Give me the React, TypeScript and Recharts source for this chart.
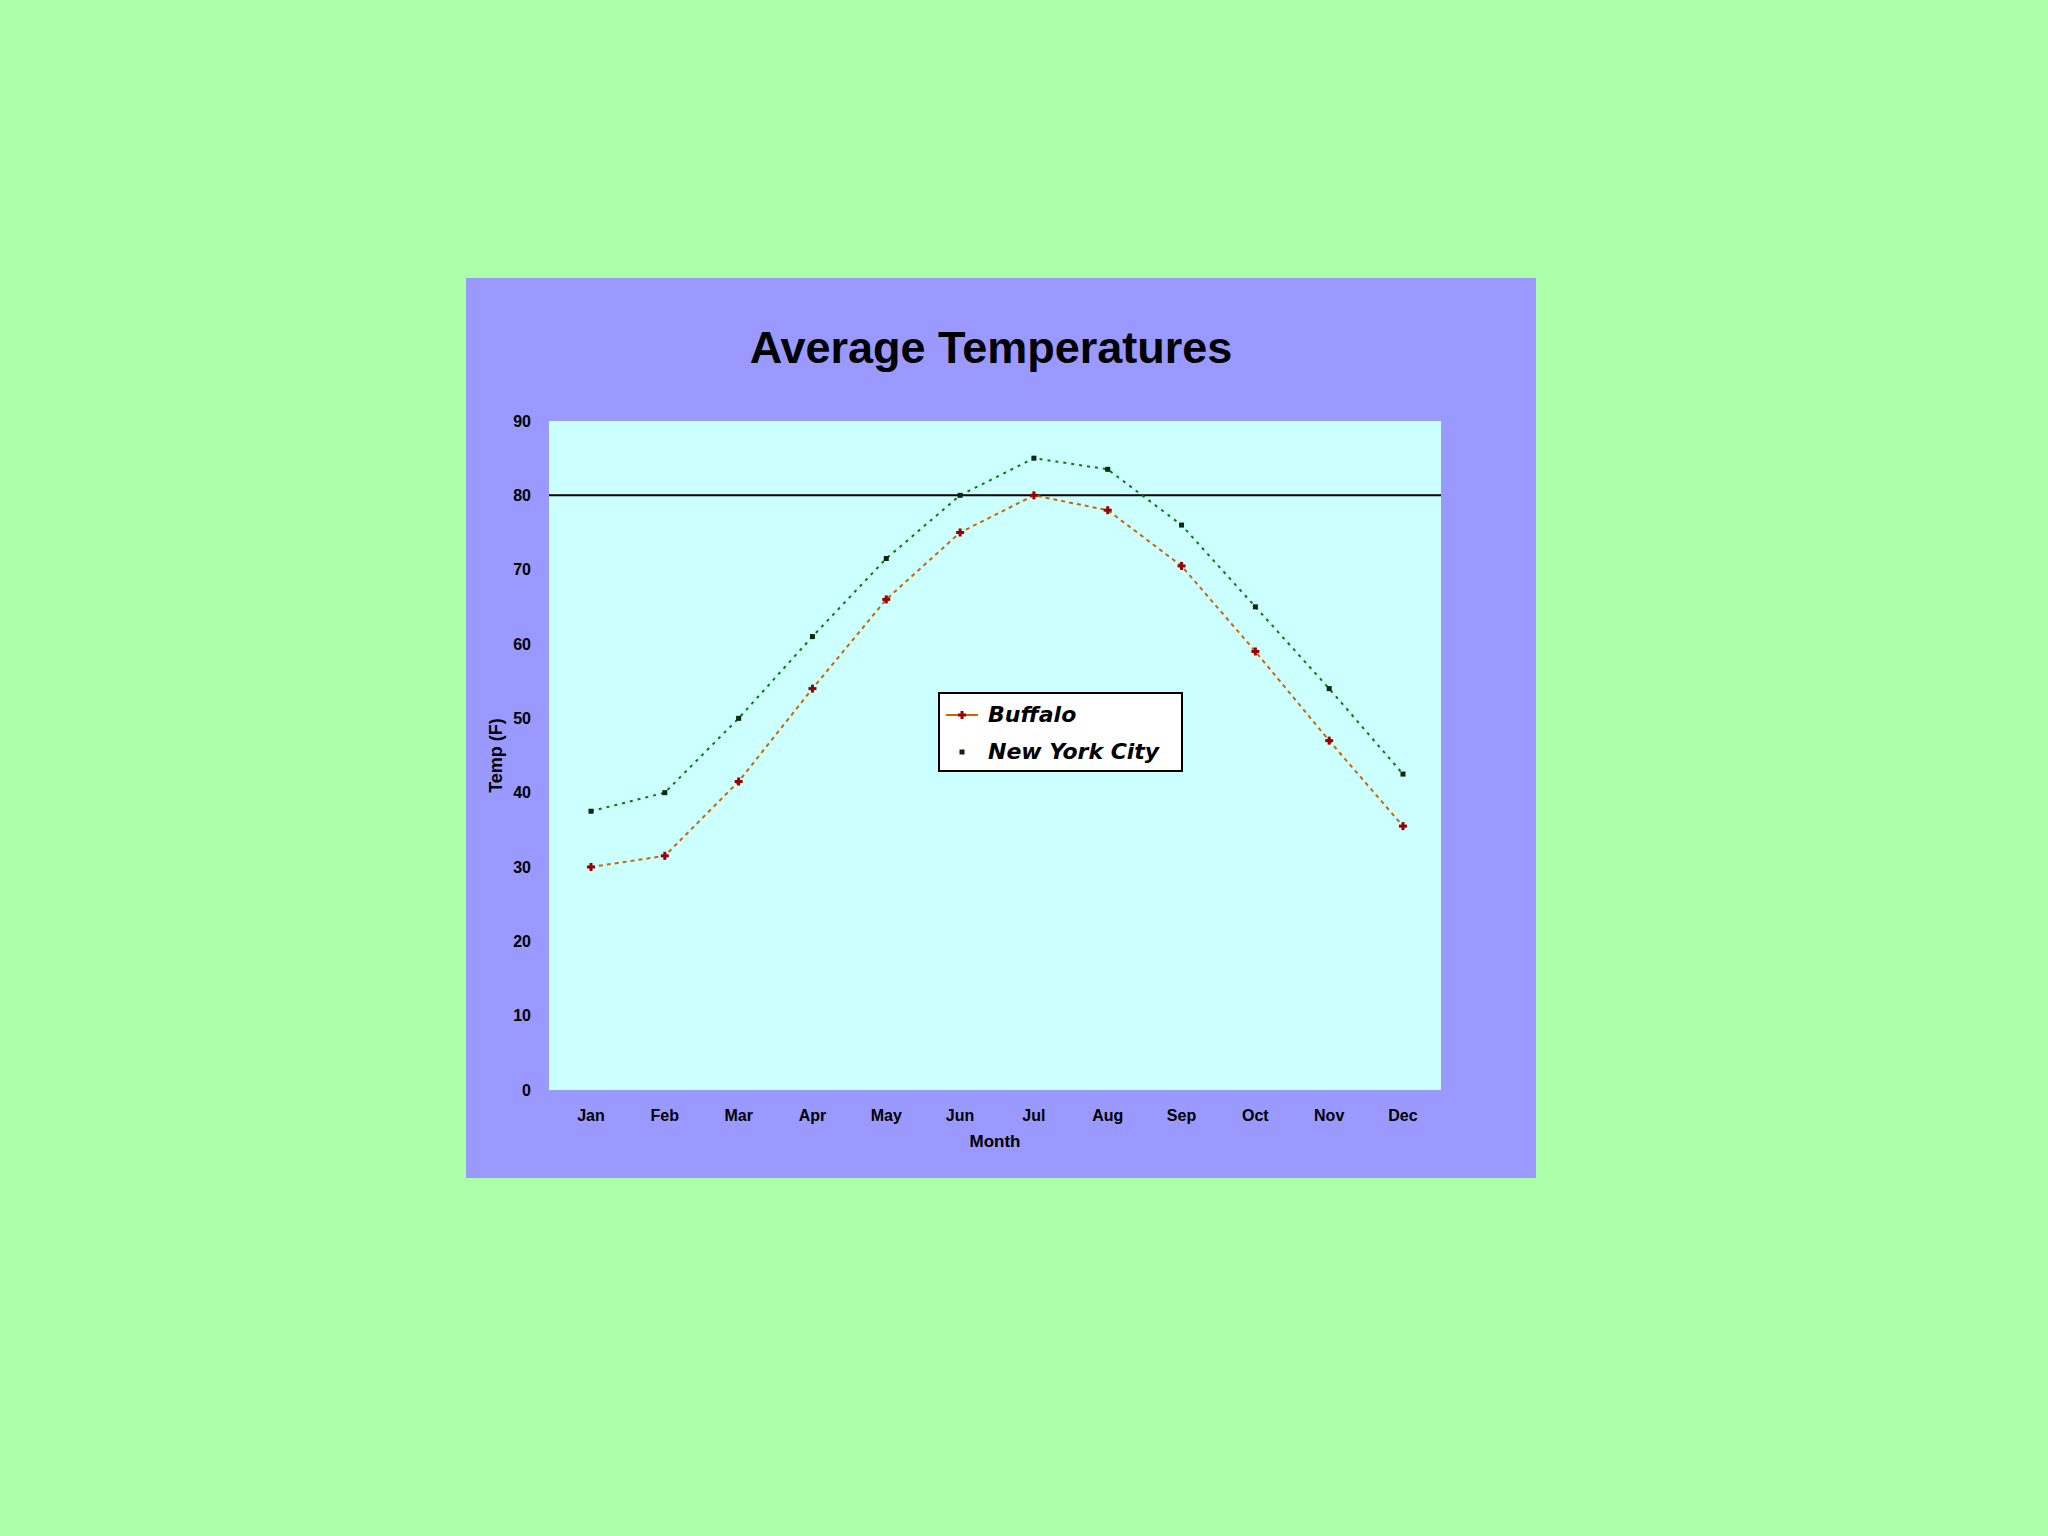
import React from "react";
import { LineChart, Line, XAxis, YAxis, CartesianGrid, ReferenceLine } from "recharts";

const months = ["Jan", "Feb", "Mar", "Apr", "May", "Jun", "Jul", "Aug", "Sep", "Oct", "Nov", "Dec"];
const buffalo = [30, 31.5, 41.5, 54, 66, 75, 80, 78, 70.5, 59, 47, 35.5];
const nyc = [37.5, 40, 50, 61, 71.5, 80, 85, 83.5, 76, 65, 54, 42.5];
const yTicks = [0, 10, 20, 30, 40, 50, 60, 70, 80, 90];

const data = months.map((m, i) => ({ month: m, buffalo: buffalo[i], nyc: nyc[i] }));

const FONT = "Liberation Sans, Arial, sans-serif";

const PlusDot = (props: any) => {
  const { cx, cy } = props;
  if (cx == null || cy == null) return null;
  return (
    <g>
      <rect x={cx - 4} y={cy - 1.5} width={8} height={3} fill="#990000" />
      <rect x={cx - 1.5} y={cy - 4} width={3} height={8} fill="#990000" />
    </g>
  );
};

const SquareDot = (props: any) => {
  const { cx, cy } = props;
  if (cx == null || cy == null) return null;
  return <rect x={cx - 2.5} y={cy - 2.5} width={5} height={5} fill="#0a2a0a" />;
};

const YLabel = (props: any) => {
  const vb = props.viewBox || {};
  const x = (vb.x ?? 0) + 30;
  const y = (vb.y ?? 0) + (vb.height ?? 0) / 2;
  return (
    <text
      x={x}
      y={y}
      transform={`rotate(-90 ${x} ${y})`}
      textAnchor="middle"
      dominantBaseline="central"
      fill="#000"
      fontSize={18}
      fontWeight="bold"
      fontFamily={FONT}
    >
      Temp (F)
    </text>
  );
};

const LegendBox = () => (
  <div
    style={{
      position: "absolute",
      left: 472,
      top: 414,
      background: "#ffffff",
      border: "2px solid #000",
      width: 245,
      height: 80,
      boxSizing: "border-box",
      fontFamily: "DejaVu Sans, sans-serif",
      fontStyle: "italic",
      fontWeight: "bold",
      fontSize: 22,
      color: "#000",
      padding: "2px 0 0 4px",
    }}
  >
    <div style={{ display: "flex", alignItems: "center", height: 37 }}>
      <svg width={36} height={20} style={{ marginRight: 8 }}>
        <line x1={2} y1={10} x2={34} y2={10} stroke="#CC6600" strokeWidth={2} />
        <rect x={14} y={8.5} width={8} height={3} fill="#990000" />
        <rect x={16.5} y={6} width={3} height={8} fill="#990000" />
      </svg>
      <span>Buffalo</span>
    </div>
    <div style={{ display: "flex", alignItems: "center", height: 37 }}>
      <svg width={36} height={20} style={{ marginRight: 8 }}>
        <rect x={15.5} y={7.5} width={5} height={5} fill="#0a2a0a" />
      </svg>
      <span>New York City</span>
    </div>
  </div>
);

export default function App() {
  return (
    <div
      style={{
        position: "absolute",
        left: 0,
        top: 0,
        width: 2048,
        height: 1536,
        background: "#AEFFAA",
      }}
    >
      <div
        style={{
          position: "absolute",
          left: 466,
          top: 278,
          width: 1070,
          height: 900,
          background: "#9999FF",
        }}
      >
        <div
          style={{
            position: "absolute",
            left: 0,
            top: 44,
            width: 1050,
            textAlign: "center",
            fontFamily: FONT,
            fontWeight: "bold",
            fontSize: 45,
            color: "#000",
            lineHeight: "52px",
          }}
        >
          Average Temperatures
        </div>
        <LineChart
          width={1070}
          height={900}
          data={data}
          margin={{ top: 143, right: 95, bottom: 28, left: 0 }}
          style={{ fontFamily: FONT }}
        >
          <CartesianGrid horizontal={false} vertical={false} fill="#CCFFFF" />
          <XAxis
            dataKey="month"
            axisLine={false}
            tickLine={false}
            height={60}
            padding={{ left: 42, right: 38 }}
            tick={{ fill: "#000", fontSize: 16, fontWeight: "bold" }}
            tickMargin={14}
            label={{ value: "Month", position: "insideBottom", offset: 3, fill: "#000", fontSize: 17, fontWeight: "bold" }}
          />
          <YAxis
            domain={[0, 90]}
            ticks={yTicks}
            axisLine={false}
            tickLine={false}
            width={83}
            tick={{ fill: "#000", fontSize: 16, fontWeight: "bold" }}
            tickMargin={12}
            label={<YLabel />}
          />
          <ReferenceLine y={80} stroke="#000" strokeWidth={2} />
          <Line
            type="linear"
            dataKey="buffalo"
            name="Buffalo"
            stroke="#CC6600"
            strokeWidth={2}
            strokeDasharray="4 4"
            dot={<PlusDot />}
            activeDot={false}
            isAnimationActive={false}
          />
          <Line
            type="linear"
            dataKey="nyc"
            name="New York City"
            stroke="#008000"
            strokeWidth={2}
            strokeDasharray="3 5"
            dot={<SquareDot />}
            activeDot={false}
            isAnimationActive={false}
          />
        </LineChart>
        <LegendBox />
      </div>
    </div>
  );
}
